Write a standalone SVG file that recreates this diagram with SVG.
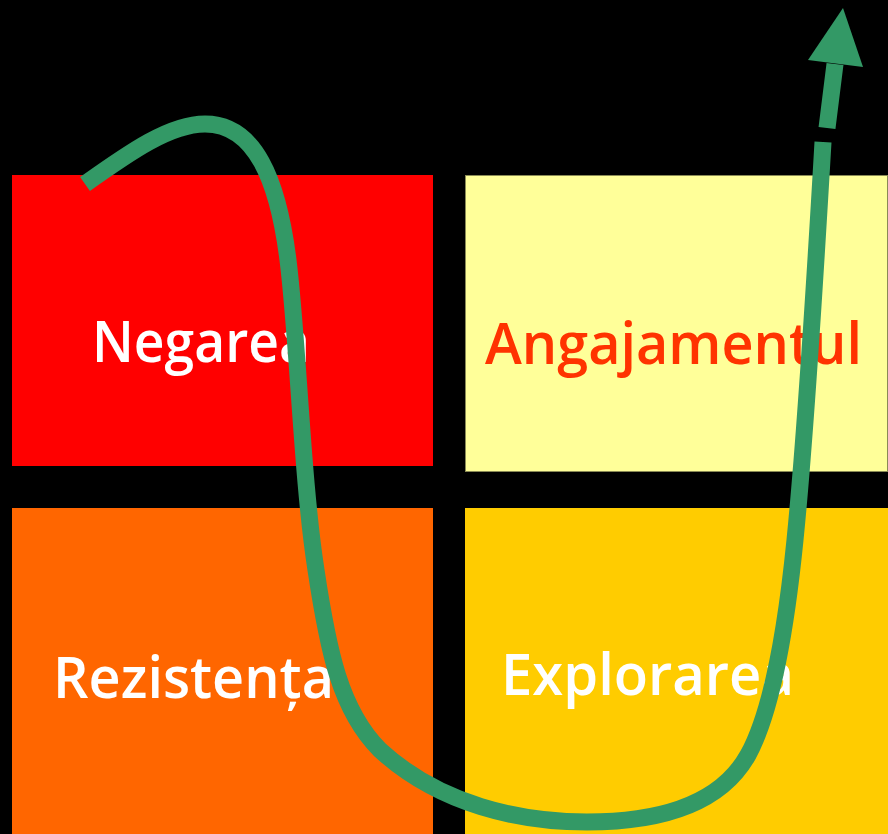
<svg xmlns="http://www.w3.org/2000/svg" width="888" height="834" viewBox="0 0 888 834">
<style>
.lbl{font-family:"Open Sans","Liberation Sans",sans-serif;font-size:58px;font-weight:600}
.curve{fill:none;stroke:#339966;stroke-width:17;stroke-linecap:butt}
</style>
<rect x="0" y="0" width="888" height="834" fill="#000"/>
<g id="negarea">
<rect x="12" y="175" width="421" height="291" fill="#FF0000"/>
<text class="lbl" x="92" y="362" fill="#FFFFFF" textLength="218" lengthAdjust="spacingAndGlyphs">Negarea</text>
</g>
<g id="angajamentul">
<rect x="465.5" y="175.5" width="422" height="296" fill="#FFFF99" stroke="#8a8a55" stroke-width="1"/>
<text class="lbl" x="485" y="364" fill="#FF3300" textLength="377" lengthAdjust="spacingAndGlyphs">Angajamentul</text>
</g>
<g id="rezistenta">
<rect x="12" y="508" width="421" height="326" fill="#FF6600"/>
<text class="lbl" x="53" y="698" fill="#FFFFFF" textLength="281" lengthAdjust="spacingAndGlyphs">Rezistența</text>
</g>
<g id="explorarea">
<rect x="465" y="508" width="423" height="326" fill="#FFCC00"/>
<text class="lbl" x="501" y="695" fill="#FFFFFF" font-weight="500" textLength="293" lengthAdjust="spacingAndGlyphs">Explorarea</text>
</g>
<g id="connectors">
<path class="curve" d="M85,184 C130,152 170,124 205,124 C255,124 278,180 288,260 C298,340 302,480 316,570 C328,650 340,710 380,750 C440,805 520,822 587,822 C660,822 720,805 748,755 C770,715 785,640 795,540 C805,440 815,280 823,142"/>
<path class="curve" d="M827,128 L835,64"/>
<polygon points="808,60 843,8 863,67" fill="#339966"/>
</g>
</svg>
